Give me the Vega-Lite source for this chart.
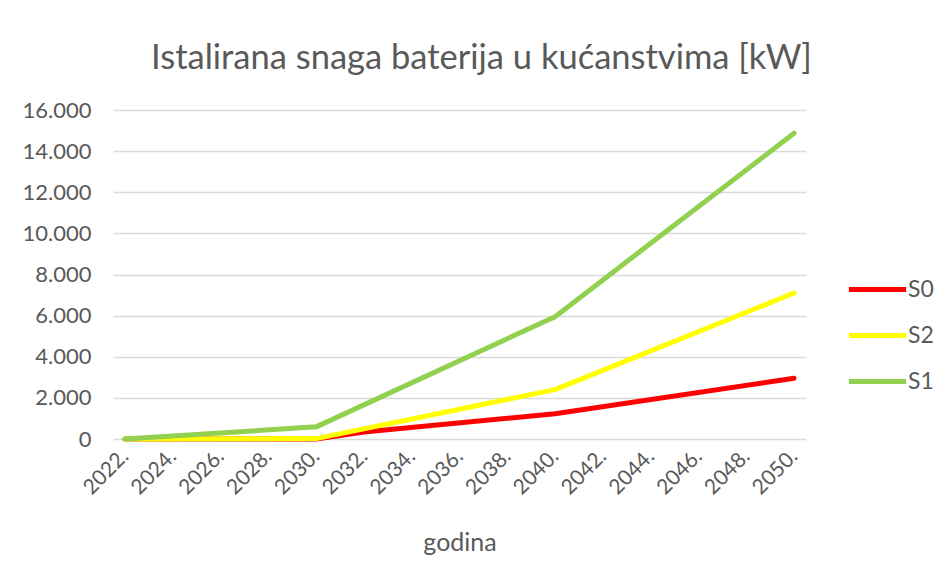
{
  "$schema": "https://vega.github.io/schema/vega-lite/v6.json",
  "width": 693,
  "height": 329,
  "autosize": {"type": "none"},
  "padding": {"left": 113, "top": 110, "right": 139, "bottom": 142},
  "background": "white",
  "title": {
    "text": "Istalirana snaga baterija u kućanstvima [kW]",
    "font": "Lato",
    "fontSize": 34.5,
    "fontWeight": "normal",
    "color": "#595959",
    "anchor": "middle",
    "dx": 22,
    "offset": 23
  },
  "data": {
    "values": [
      {"godina": 2022, "serija": "S0", "kW": 0},
      {"godina": 2030, "serija": "S0", "kW": 0},
      {"godina": 2032, "serija": "S0", "kW": 340},
      {"godina": 2040, "serija": "S0", "kW": 1230},
      {"godina": 2050, "serija": "S0", "kW": 2950},
      {"godina": 2022, "serija": "S2", "kW": 0},
      {"godina": 2030, "serija": "S2", "kW": 20},
      {"godina": 2040, "serija": "S2", "kW": 2400},
      {"godina": 2050, "serija": "S2", "kW": 7100},
      {"godina": 2022, "serija": "S1", "kW": 0},
      {"godina": 2030, "serija": "S1", "kW": 590},
      {"godina": 2040, "serija": "S1", "kW": 5950},
      {"godina": 2050, "serija": "S1", "kW": 14870}
    ]
  },
  "mark": {"type": "line", "strokeWidth": 5, "strokeCap": "round", "strokeJoin": "round"},
  "encoding": {
    "x": {
      "field": "godina",
      "type": "quantitative",
      "scale": {"domain": [2021.5, 2050.5], "nice": false, "zero": false},
      "axis": {
        "title": "godina",
        "values": [2022, 2024, 2026, 2028, 2030, 2032, 2034, 2036, 2038, 2040, 2042, 2044, 2046, 2048, 2050],
        "labelExpr": "datum.value + '.'",
        "labelAngle": -45,
        "labelAlign": "right",
        "labelBaseline": "middle",
        "labelPadding": 14,
        "labelOverlap": false,
        "labelFont": "Lato",
        "labelFontSize": 21,
        "labelColor": "#595959",
        "titleFont": "Lato",
        "titleFontSize": 25,
        "titleFontWeight": "normal",
        "titleColor": "#595959",
        "titlePadding": 32,
        "grid": false,
        "ticks": false,
        "domain": false
      }
    },
    "y": {
      "field": "kW",
      "type": "quantitative",
      "scale": {"domain": [0, 16000], "nice": false},
      "axis": {
        "title": null,
        "values": [0, 2000, 4000, 6000, 8000, 10000, 12000, 14000, 16000],
        "labelExpr": "replace(format(datum.value, ','), ',', '.')",
        "labelFont": "Lato",
        "labelFontSize": 22,
        "labelColor": "#595959",
        "labelPadding": 22,
        "ticks": false,
        "domain": false,
        "grid": true,
        "gridColor": "#d9d9d9",
        "gridWidth": 1.5
      }
    },
    "color": {
      "field": "serija",
      "type": "nominal",
      "scale": {"domain": ["S0", "S2", "S1"], "range": ["#ff0000", "#ffff00", "#92d050"]},
      "legend": {
        "title": null,
        "orient": "none",
        "legendX": 740,
        "legendY": 155,
        "symbolType": "M-1.3,0H1.3",
        "symbolSize": 1936,
        "symbolStrokeWidth": 5,
        "labelFont": "Lato",
        "labelFontSize": 23,
        "labelColor": "#595959",
        "labelOffset": 6,
        "rowPadding": 9
      }
    }
  },
  "config": {
    "view": {"stroke": null},
    "legend": {"symbolStrokeColor": null}
  }
}
